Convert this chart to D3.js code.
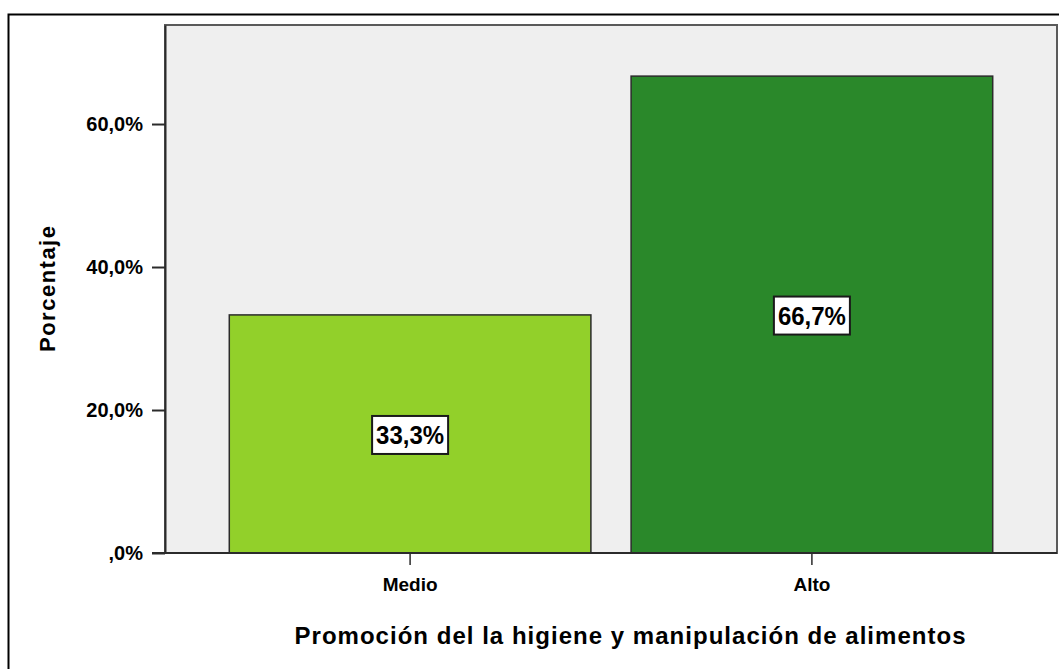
<!DOCTYPE html>
<html>
<head>
<meta charset="utf-8">
<script src="https://cdn.jsdelivr.net/npm/d3@7"></script>
<style>
  html, body { margin: 0; padding: 0; background: #ffffff; }
  svg { display: block; }
  text { font-family: "Liberation Sans", Arial, sans-serif; font-weight: bold; fill: #000; }
</style>
</head>
<body>
<svg id="chart" width="1059" height="669"></svg>
<script>
// Chart data
const categories = ["Medio", "Alto"];
const percentages = [33.3, 66.7];
const barColors = ["#92d02a", "#2a882a"];
const yTicks = [0, 20, 40, 60];
const yTickLabels = [",0%", "20,0%", "40,0%", "60,0%"];
const valueLabels = ["33,3%", "66,7%"];
const xTitle = "Promoción del la higiene y manipulación de alimentos";
const yTitle = "Porcentaje";

const svg = d3.select("#chart");
const W = 1059, H = 669;

// Plot frame
const plot = { left: 165, top: 25, right: 1057, bottom: 553 };

const x = d3.scaleBand()
  .domain(categories)
  .range([plot.left, plot.right])
  .paddingInner(0.1)
  .paddingOuter(0.16);

const y = d3.scaleLinear()
  .domain([0, 73.85])
  .range([plot.bottom, plot.top]);

// Outer chart border (runs off the right and bottom edges)
svg.append("rect")
  .attr("x", 8.5).attr("y", 14.5)
  .attr("width", W + 20).attr("height", H + 20)
  .attr("fill", "none").attr("stroke", "#000").attr("stroke-width", 2);

// Plot background
svg.append("rect")
  .attr("x", plot.left).attr("y", plot.top)
  .attr("width", plot.right - plot.left).attr("height", plot.bottom - plot.top)
  .attr("fill", "#efefef")
  .attr("stroke", "#5a5a5a").attr("stroke-width", 2);

// Bars
const data = categories.map((c, i) => ({ cat: c, value: percentages[i], color: barColors[i], label: valueLabels[i] }));

svg.append("g").selectAll("rect")
  .data(data)
  .join("rect")
  .attr("x", d => x(d.cat))
  .attr("y", d => y(d.value))
  .attr("width", x.bandwidth())
  .attr("height", d => y(0) - y(d.value))
  .attr("fill", d => d.color)
  .attr("stroke", "#2b2b2b")
  .attr("stroke-width", 1.5);

// Y axis
const yAxis = d3.axisLeft(y)
  .tickValues(yTicks)
  .tickFormat((d, i) => yTickLabels[i])
  .tickSizeInner(13)
  .tickSizeOuter(0)
  .tickPadding(9);

const gy = svg.append("g")
  .attr("transform", `translate(${plot.left},0)`)
  .call(yAxis);
gy.select(".domain").attr("stroke", "#2b2b2b").attr("stroke-width", 2);
gy.selectAll(".tick line").attr("stroke", "#2b2b2b").attr("stroke-width", 2);
gy.selectAll(".tick text")
  .attr("font-size", 20).attr("font-family", "Liberation Sans, Arial, sans-serif")
  .attr("font-weight", "bold").attr("fill", "#000");

// X axis
const xAxis = d3.axisBottom(x).tickSizeInner(12).tickSizeOuter(0).tickPadding(13);
const gx = svg.append("g")
  .attr("transform", `translate(0,${plot.bottom})`)
  .call(xAxis);
gx.select(".domain").remove();
gx.selectAll(".tick line").attr("stroke", "#2b2b2b").attr("stroke-width", 1.5);
gx.selectAll(".tick text")
  .attr("font-size", 19).attr("font-family", "Liberation Sans, Arial, sans-serif")
  .attr("font-weight", "bold").attr("fill", "#000");

// Baseline
svg.append("line")
  .attr("x1", plot.left - 13).attr("x2", plot.right)
  .attr("y1", y(0)).attr("y2", y(0))
  .attr("stroke", "#2b2b2b").attr("stroke-width", 2);

// Value labels in white boxes at the bar middles
const lab = svg.append("g").selectAll("g")
  .data(data)
  .join("g")
  .attr("transform", d => `translate(${x(d.cat) + x.bandwidth() / 2},${y(d.value / 2)})`);

lab.append("rect")
  .attr("x", -38).attr("y", -18)
  .attr("width", 76).attr("height", 38)
  .attr("fill", "#fff").attr("stroke", "#1a1a1a").attr("stroke-width", 2);

lab.append("text")
  .attr("text-anchor", "middle")
  .attr("dy", "0.36em")
  .attr("y", 1)
  .attr("font-size", 25)
  .attr("textLength", 68).attr("lengthAdjust", "spacingAndGlyphs")
  .text(d => d.label);

// Axis titles
svg.append("text")
  .attr("x", 630).attr("y", 644)
  .attr("text-anchor", "middle")
  .attr("font-size", 24)
  .attr("textLength", 671).attr("lengthAdjust", "spacing")
  .text(xTitle);

svg.append("text")
  .attr("transform", "translate(55,289) rotate(-90)")
  .attr("text-anchor", "middle")
  .attr("font-size", 22)
  .attr("textLength", 126).attr("lengthAdjust", "spacing")
  .text(yTitle);
</script>
</body>
</html>
